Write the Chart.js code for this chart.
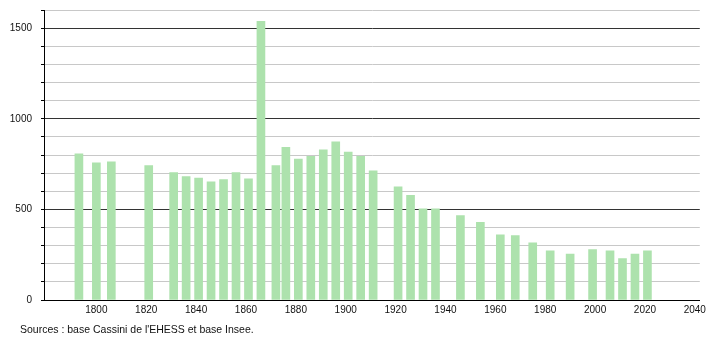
<!DOCTYPE html>
<html>
<head>
<meta charset="utf-8">
<script src="https://cdn.jsdelivr.net/npm/chart.js@4.4.0/dist/chart.umd.min.js"></script>
<style>
    html, body { margin: 0; padding: 0; background: #fff; }
    #wrap { position: relative; width: 710px; height: 340px; }
    #src {
        position: absolute; left: 20px; top: 323px;
        font: 10.5px "Liberation Sans", Arial, sans-serif; color: #111;
        white-space: nowrap;
    }
</style>
</head>
<body>
<div id="wrap">
    <canvas id="popChart" width="710" height="340"></canvas>
    <div id="src">Sources : base Cassini de l'EHESS et base Insee.</div>
</div>
<script>
// Census years and population
var years = [1793, 1800, 1806, 1821, 1831, 1836, 1841, 1846, 1851, 1856, 1861, 1866,
             1872, 1876, 1881, 1886, 1891, 1896, 1901, 1906, 1911, 1921, 1926, 1931,
             1936, 1946, 1954, 1962, 1968, 1975, 1982, 1990, 1999, 2006, 2011, 2016, 2021];
var population = [807, 757, 762, 742, 703, 681, 673, 652, 665, 703, 669, 1537,
                  742, 842, 778, 792, 829, 873, 816, 792, 713, 624, 577, 503,
                  503, 466, 428, 359, 355, 315, 271, 254, 278, 271, 228, 254, 271];
var yearTicks = [1800, 1820, 1840, 1860, 1880, 1900, 1920, 1940, 1960, 1980, 2000, 2020, 2040];
var popLabels = [0, 500, 1000, 1500];

var barGreen = '#ade2ad';
var minorGrid = '#c8c8c8';
var majorGrid = '#333333';
var labelFont = { family: '"Liberation Sans", Arial, sans-serif', size: 10 };

var ctx = document.getElementById('popChart').getContext('2d');
new Chart(ctx, {
    type: 'bar',
    data: {
        datasets: [{
            data: years.map(function (yr, i) { return { x: yr, y: population[i] }; }),
            backgroundColor: barGreen,
            barThickness: 8
        }]
    },
    options: {
        responsive: false,
        animation: false,
        devicePixelRatio: 1,
        layout: { padding: { top: 10, right: 9, left: 0, bottom: 0 } },
        plugins: {
            legend: { display: false },
            tooltip: { enabled: false }
        },
        scales: {
            x: {
                type: 'linear',
                offset: false,
                min: 1779,
                max: 2042,
                grid: { display: false, drawTicks: false, tickLength: 0 },
                border: { display: true, color: '#000', width: 1 },
                afterBuildTicks: function (scale) {
                    scale.ticks = yearTicks.map(function (v) { return { value: v }; });
                },
                afterFit: function (scale) { scale.height = 40; },
                ticks: {
                    color: '#111',
                    font: labelFont,
                    padding: 4,
                    maxRotation: 0,
                    autoSkip: false,
                    callback: function (v) { return String(v); }
                }
            },
            y: {
                min: 0,
                max: 1600,
                afterFit: function (scale) {
                    scale.width = 44;
                    scale.paddingTop = 0;
                    scale.paddingBottom = 0;
                },
                border: { display: true, color: '#000', width: 1 },
                grid: {
                    color: function (c) { return c.tick && c.tick.value % 500 === 0 ? majorGrid : minorGrid; },
                    tickColor: '#000',
                    tickLength: 3,
                    lineWidth: 1
                },
                ticks: {
                    stepSize: 100,
                    color: '#111',
                    font: labelFont,
                    padding: 9,
                    callback: function (v) { return popLabels.indexOf(v) >= 0 ? String(v) : ''; }
                }
            }
        }
    }
});
</script>
</body>
</html>
